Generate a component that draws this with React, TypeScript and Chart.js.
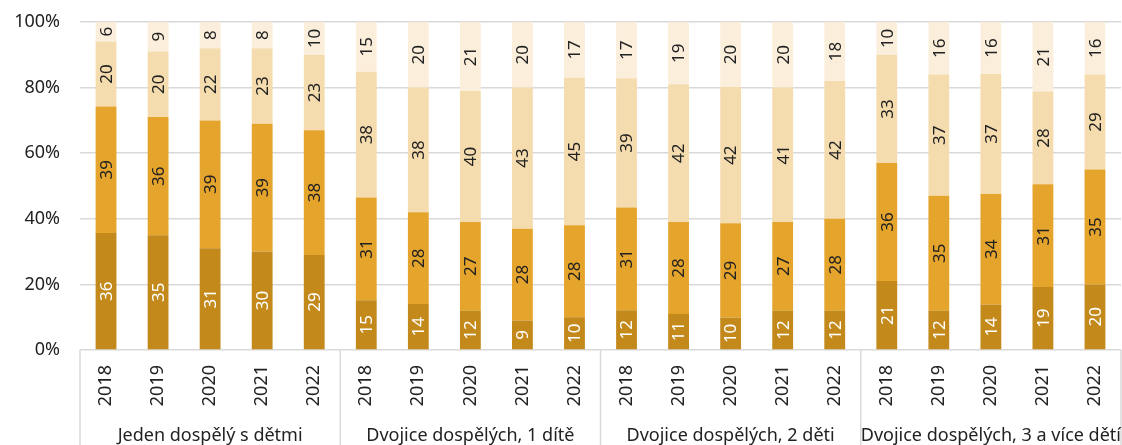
import React, { useEffect, useRef } from 'react';
import { Chart, registerables } from 'chart.js';

Chart.register(...registerables);

const FONT = '"Noto Sans", sans-serif';

const years = ['2018', '2019', '2020', '2021', '2022'];
const groups = [
  'Jeden dospělý s dětmi',
  'Dvojice dospělých, 1 dítě',
  'Dvojice dospělých, 2 děti',
  'Dvojice dospělých, 3 a více dětí',
];
const yTicks = [0, 20, 40, 60, 80, 100];

const series1 = [36, 35, 31, 30, 29, 15, 14, 12, 9, 10, 12, 11, 10, 12, 12, 21, 12, 14, 19, 20];
const series2 = [39, 36, 39, 39, 38, 31, 28, 27, 28, 28, 31, 28, 29, 27, 28, 36, 35, 34, 31, 35];
const series3 = [20, 20, 22, 23, 23, 38, 38, 40, 43, 45, 39, 42, 42, 41, 42, 33, 37, 37, 28, 29];
const series4 = [6, 9, 8, 8, 10, 15, 20, 21, 20, 17, 17, 19, 20, 20, 18, 10, 16, 16, 21, 16];

const seriesColors = ['#C3891B', '#E5A42B', '#F5DCAE', '#FBEFDC'];
const labelColors = ['#FFFFFF', '#222222', '#222222', '#222222'];

export default function App() {
  const ref = useRef<HTMLCanvasElement | null>(null);

  useEffect(() => {
    const all = [series1, series2, series3, series4];
    const sums = series1.map((_, i) => all.reduce((a, s) => a + s[i], 0));
    const labels = groups.flatMap(() => years);

    const dataLabelPlugin = {
      id: 'dataLabels',
      afterDatasetsDraw(chart: any) {
        const ctx = chart.ctx;
        ctx.save();
        ctx.font = `17px ${FONT}`;
        ctx.textAlign = 'center';
        ctx.textBaseline = 'middle';
        chart.data.datasets.forEach((ds: any, di: number) => {
          const meta = chart.getDatasetMeta(di);
          meta.data.forEach((el: any, i: number) => {
            const cy = (el.y + el.base) / 2;
            ctx.save();
            ctx.translate(el.x, cy);
            ctx.rotate(-Math.PI / 2);
            ctx.fillStyle = labelColors[di];
            ctx.fillText(String(ds.raw[i]), 0, 1);
            ctx.restore();
          });
        });
        ctx.restore();
      },
    };

    const groupPlugin = {
      id: 'groups',
      afterDraw(chart: any) {
        const ctx = chart.ctx;
        const a = chart.chartArea;
        const gw = (a.right - a.left) / groups.length;
        ctx.save();
        ctx.strokeStyle = '#D9D9D9';
        ctx.lineWidth = 1.5;
        for (let i = 0; i <= groups.length; i++) {
          const x = a.left + i * gw;
          ctx.beginPath();
          ctx.moveTo(x, a.bottom);
          ctx.lineTo(x, chart.height);
          ctx.stroke();
        }
        ctx.font = `18px ${FONT}`;
        ctx.fillStyle = '#222222';
        ctx.textAlign = 'center';
        ctx.textBaseline = 'alphabetic';
        groups.forEach((g, i) => {
          ctx.fillText(g, a.left + (i + 0.5) * gw, 441);
        });
        ctx.restore();
      },
    };

    const chart = new Chart(ref.current as HTMLCanvasElement, {
      type: 'bar',
      data: {
        labels,
        datasets: all.map((s, di) => ({
          label: `s${di + 1}`,
          data: s.map((v, i) => (v / sums[i]) * 100),
          raw: s,
          backgroundColor: seriesColors[di],
          borderWidth: 0,
          barPercentage: 0.8,
          categoryPercentage: 0.5,
        })) as any,
      },
      options: {
        animation: false,
        responsive: false,
        layout: { padding: { top: 22, right: 1, left: 0, bottom: 0 } },
        plugins: {
          legend: { display: false },
          tooltip: { enabled: false },
        },
        scales: {
          x: {
            stacked: true,
            grid: { display: false, drawTicks: false },
            border: { display: false },
            ticks: {
              minRotation: 90,
              maxRotation: 90,
              padding: 15,
              color: '#222222',
              font: { family: FONT, size: 18 },
              autoSkip: false,
            },
            afterFit: (s: any) => {
              s.height = 95;
              s.paddingLeft = 0;
              s.paddingRight = 0;
            },
          },
          y: {
            stacked: true,
            min: 0,
            max: 100,
            grid: { color: '#D9D9D9', lineWidth: 1.5, drawTicks: false },
            border: { display: false },
            afterBuildTicks: (s: any) => {
              s.ticks = yTicks.map((v) => ({ value: v }));
            },
            ticks: {
              padding: 20,
              color: '#222222',
              font: { family: FONT, size: 18 },
              callback: (v: any) => `${v}%`,
            },
            afterFit: (s: any) => {
              s.width = 80;
              s.paddingTop = 0;
              s.paddingBottom = 0;
            },
          },
        },
      },
      plugins: [dataLabelPlugin, groupPlugin],
    });
    return () => chart.destroy();
  }, []);

  return (
    <div style={{ position: 'fixed', left: 0, top: 0, width: 1122, height: 445, background: '#fff' }}>
      <canvas ref={ref} width={1122} height={445} />
    </div>
  );
}
